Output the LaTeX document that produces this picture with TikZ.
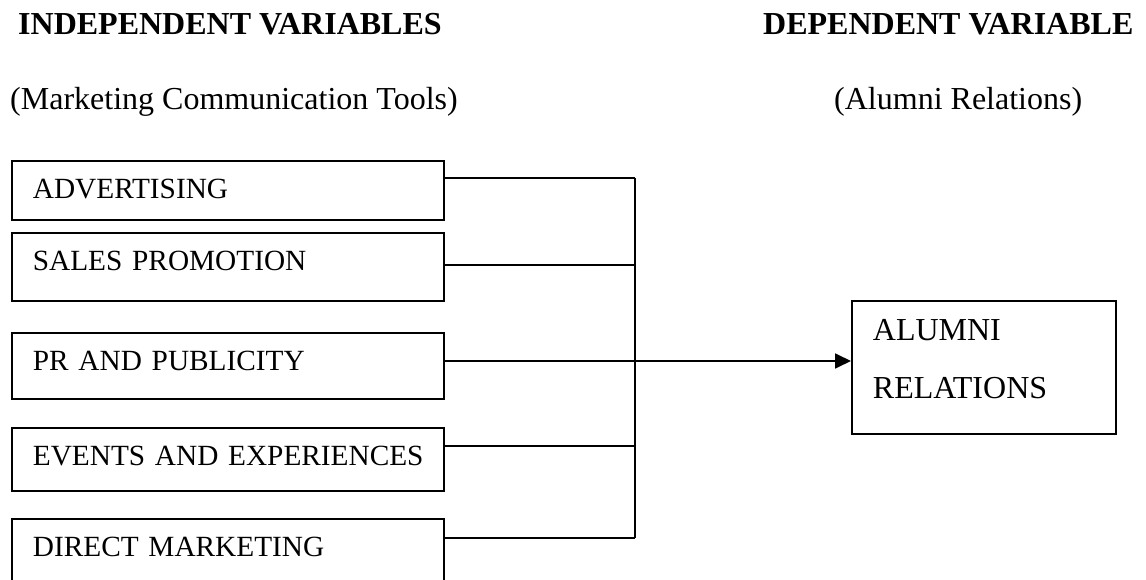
\documentclass[tikz,border=0pt]{standalone}
\usepackage{fontspec}
\setmainfont{Liberation Serif}
\usetikzlibrary{arrows.meta}

\begin{document}
\begin{tikzpicture}[x=1pt, y=-1pt,
    every node/.style={font=\fontsize{29.3}{58}\selectfont},
    head/.style={anchor=base west, inner sep=0pt, font=\fontsize{32}{38}\selectfont},
    tool/.style={draw, line width=1.8pt, anchor=north west, minimum width=432pt,
        text width=390pt, inner xsep=21pt, inner ysep=0pt, text height=38pt, align=left},
    result/.style={draw, line width=1.8pt, anchor=north west, minimum width=264pt,
        text width=222pt, inner xsep=21pt, inner ysep=0pt, text height=40pt,
        text depth=93pt, align=left, font=\fontsize{32}{58}\selectfont},
    link/.style={line width=1.8pt}]
    \clip (0,0) rectangle (1146,580);

    % Headings
    \node[head] (indep) at (18,35) {\textbf{INDEPENDENT VARIABLES}};
    \node[head] (dep) at (763,35) {\textbf{DEPENDENT VARIABLE}};
    \node[head] (indepsub) at (10,110) {(Marketing Communication Tools)};
    \node[head] (depsub) at (834,110) {(Alumni Relations)};

    % Draw nodes
    \node[tool, text depth=21pt] (adv) at (11,160) {ADVERTISING};
    \node[tool, text depth=30pt] (sales) at (11,232) {SALES PROMOTION};
    \node[tool, text depth=28pt] (pr) at (11,332) {PR AND PUBLICITY};
    \node[tool, text depth=25pt] (events) at (11,427) {\mbox{EVENTS AND EXPERIENCES}};
    \node[tool, text depth=40pt] (direct) at (11,518) {DIRECT MARKETING};
    \node[result] (alumni) at (851,300) {ALUMNI\\RELATIONS};

    % Junction points
    \coordinate (j1) at (635,178);
    \coordinate (j2) at (635,265);
    \coordinate (j3) at (635,361);
    \coordinate (j4) at (635,446);
    \coordinate (j5) at (635,538);

    % Draw connections
    \draw[link] (adv.east |- j1) -- (j1);
    \draw[link] (sales.east |- j2) -- (j2);
    \draw[link] (events.east |- j4) -- (j4);
    \draw[link] (direct.east |- j5) -- (j5);
    \draw[link] (j1) -- (j5);
    \draw[link, -{Triangle[length=16pt, width=15pt]}] (pr.east |- j3) -- (alumni.west |- j3);
\end{tikzpicture}
\end{document}
